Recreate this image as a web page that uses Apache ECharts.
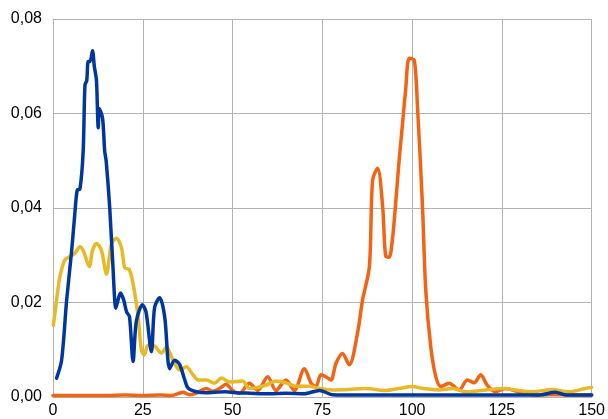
<!DOCTYPE html>
<html><head><meta charset="utf-8">
<script src="https://cdn.jsdelivr.net/npm/echarts@6/dist/echarts.min.js"></script>
<style>html,body{margin:0;padding:0;background:#fff}#c{width:608px;height:419px}</style>
</head><body><div id="c"></div>
<script>
const xTicks = [0, 25, 50, 75, 100, 125, 150];
const yTicks = [0, 0.02, 0.04, 0.06, 0.08];

const blueSeries = [[1,0.004],[2.4,0.0078],[3.8,0.0205],[5.2,0.031],[6.1,0.039],[6.75,0.0438],[7.5,0.044],[8.4,0.052],[8.9,0.066],[9.4,0.067],[9.8,0.071],[10.3,0.071],[11,0.0733],[11.5,0.070],[12.1,0.067],[12.6,0.057],[12.9,0.061],[13.8,0.059],[14.4,0.052],[14.8,0.050],[15.8,0.040],[16.7,0.0275],[17.5,0.0188],[18.1,0.0205],[18.8,0.022],[19.7,0.0205],[20.5,0.018],[21.3,0.017],[22.3,0.0075],[23.2,0.016],[24.9,0.0195],[25.9,0.018],[27.4,0.0096],[28.3,0.019],[29.7,0.021],[31.1,0.017],[32.5,0.006],[33.9,0.0078],[35.3,0.0068],[36.7,0.0036],[37.6,0.0019],[39.9,0.0011],[42.7,0.0009],[45,0.001],[48,0.0011],[50.8,0.0009],[55,0.0008],[60,0.0007],[65,0.0008],[70,0.0007],[74.2,0.0014],[77.8,0.0005],[85,0.0004],[100,0.0004],[120,0.0004],[135,0.0004],[139.9,0.001],[143,0.0004],[150,0.0004]];

const yellowSeries = [[0.1,0.0152],[1,0.0205],[1.9,0.0254],[3.3,0.029],[4.7,0.0297],[6.1,0.0304],[7.5,0.0318],[8.4,0.031],[10.1,0.0276],[11,0.031],[12.1,0.0325],[13.5,0.031],[14.9,0.026],[16.3,0.0325],[17.7,0.0336],[19.1,0.0315],[20,0.0273],[21.2,0.027],[22.3,0.024],[23.7,0.017],[24.6,0.010],[25.4,0.0089],[26.5,0.011],[27.8,0.011],[30.2,0.0093],[31.6,0.0106],[33.4,0.0078],[35.3,0.0057],[37.1,0.0064],[39,0.0047],[40.4,0.0036],[42.7,0.0036],[45,0.0029],[46.9,0.004],[49.2,0.0032],[52.8,0.0034],[54.7,0.0018],[57,0.002],[59.3,0.0025],[62.1,0.0034],[64.9,0.003],[67.7,0.0023],[71.4,0.0023],[74.2,0.0018],[77.8,0.0015],[82.4,0.0016],[87,0.0018],[92.6,0.0014],[96.3,0.0018],[100.1,0.0022],[103,0.0018],[107.5,0.0015],[111.2,0.0018],[114.9,0.0011],[120.5,0.0015],[125.1,0.0018],[128.8,0.0015],[133.4,0.0011],[139,0.0016],[143.6,0.0011],[148.2,0.0018],[150,0.002]];

const orangeSeries = [[0,0.0003],[5,0.0003],[10,0.0003],[15,0.0003],[20,0.0004],[25,0.0003],[30,0.0004],[33,0.0003],[36.2,0.001],[38,0.0005],[40,0.0008],[42.7,0.0018],[44.5,0.0012],[46.4,0.0018],[48.2,0.0027],[50,0.0014],[51.9,0.0008],[54.7,0.0029],[57,0.0014],[59.8,0.0043],[62.1,0.0014],[64.9,0.0036],[67.2,0.0014],[70,0.006],[71.9,0.0029],[73.2,0.0022],[74.6,0.0047],[76,0.0043],[77.4,0.0036],[78.8,0.0071],[80.6,0.0092],[82.5,0.0068],[84.8,0.0135],[86.2,0.0205],[88.1,0.0276],[89,0.0459],[90.4,0.0484],[91.8,0.0403],[92.7,0.0297],[93.6,0.0296],[94.5,0.0332],[95.5,0.0417],[96.4,0.0502],[97.3,0.0576],[98.2,0.065],[99.2,0.0717],[100.6,0.0713],[101.5,0.0614],[102.9,0.0403],[103.8,0.0226],[105.2,0.0106],[106.6,0.0043],[108,0.0022],[110.3,0.0029],[113.1,0.0015],[115.4,0.0036],[117.3,0.003],[119.1,0.0047],[120.9,0.0025],[123.2,0.0011],[126,0.0018],[129.6,0.0011],[134.4,0.0004],[141.8,0.0005],[150,0.0004]];

const chart = echarts.init(document.getElementById('c'), null, {renderer:'canvas'});
const font = 'Liberation Sans, Arial, sans-serif';
function mk(name, data, color, z) {
  return {name, type:'line', data, smooth:0.3, symbol:'none', z,
    lineStyle:{color, width:3.5, cap:'round', join:'round'}, animation:false};
}
chart.setOption({
  animation:false,
  grid:{left:53, right:15, top:19, bottom:22, containLabel:false},
  xAxis:{type:'value', min:xTicks[0], max:xTicks[xTicks.length-1], interval:25,
    axisLine:{show:true, lineStyle:{color:'#b3b3b3', width:1}},
    axisTick:{show:false},
    splitLine:{show:true, lineStyle:{color:'#b3b3b3', width:1}},
    axisLabel:{color:'#000', fontSize:16, fontFamily:font, margin:6}},
  yAxis:{type:'value', min:yTicks[0], max:yTicks[yTicks.length-1], interval:0.02,
    axisLine:{show:true, lineStyle:{color:'#b3b3b3', width:1}},
    axisTick:{show:false},
    splitLine:{show:true, lineStyle:{color:'#b3b3b3', width:1}},
    axisLabel:{color:'#000', fontSize:16, fontFamily:font, margin:11,
      formatter:v=>v.toFixed(2).replace('.', ',')}},
  series:[
    mk('orange', orangeSeries, '#f26414', 2),
    mk('yellow', yellowSeries, '#e8b925', 3),
    mk('blue', blueSeries, '#00379e', 4)
  ]
});
</script></body></html>
